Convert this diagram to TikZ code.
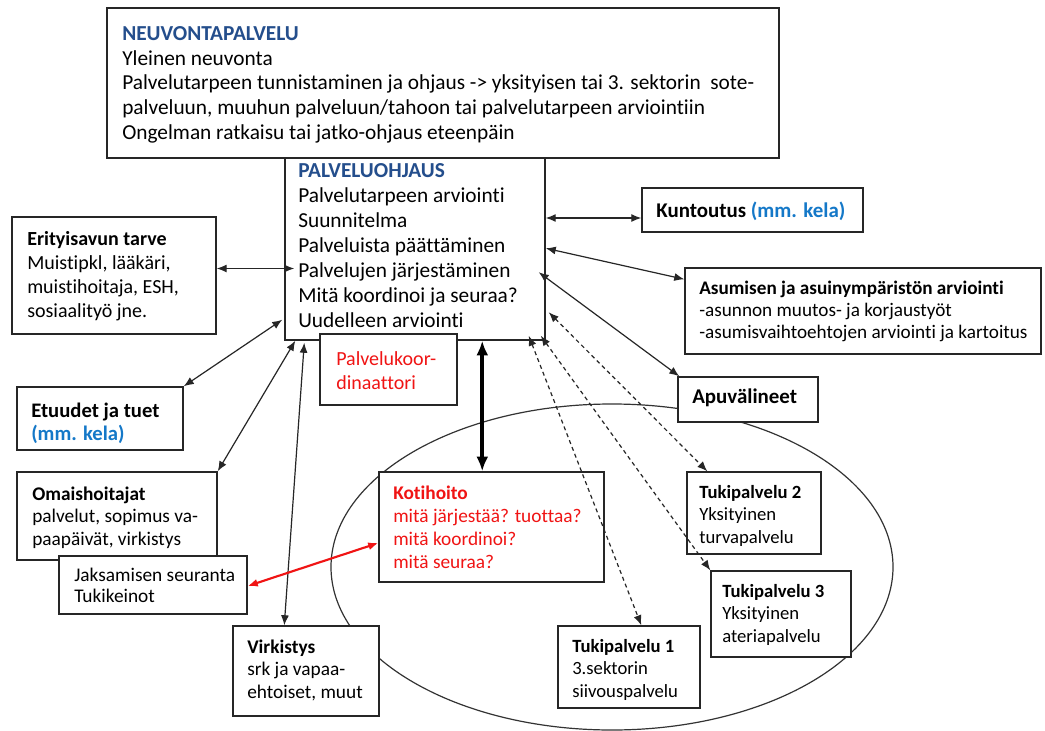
\documentclass[tikz,border=0pt]{standalone}
\usepackage{fontspec}
\setmainfont{Carlito}[Ligatures=NoCommon]
\usetikzlibrary{arrows.meta,calc,fit}
\definecolor{ttlblue}{RGB}{36,78,140}
\definecolor{kelablue}{RGB}{20,120,200}
\definecolor{kred}{RGB}{240,20,20}
\tikzset{
  box/.style={draw=black!85, line width=1.1pt, fill=white, inner sep=0pt},
  txt/.style={inner sep=0pt, anchor=north west, align=left},
  fz/.style 2 args={font=\fontsize{#1}{#2}\selectfont},
  arr/.style={{Latex[length=7.5pt,width=6pt]}-{Latex[length=7.5pt,width=6pt]}, line width=0.9pt, draw=black!85},
  darr/.style={arr, dash pattern=on 3pt off 2.5pt},
  thickarr/.style={{Latex[length=11pt,width=9pt]}-{Latex[length=11pt,width=9pt]}, line width=3pt},
  redarr/.style={{Latex[length=7.5pt,width=6pt]}-{Latex[length=7.5pt,width=6pt]}, line width=1.6pt, draw=kred},
}
\begin{document}
\begin{tikzpicture}[x=0.75pt,y=-0.75pt]
\useasboundingbox[fill=white] (0,0) rectangle (1045,731);
% ellipse
\draw[line width=0.9pt, black!80] (612,567) ellipse [x radius=281, y radius=163];
% boxes
\node[box, fit={(107,8) (779,158)}] (neu) {};
\node[box, fit={(285,158) (545,340)}] (palv) {};
\node[box, fit={(320,334) (457,405)}] (koord) {};
\node[box, fit={(12,217) (216,334)}] (eri) {};
\node[box, fit={(17,387) (183,450)}] (etu) {};
\node[box, fit={(17,472) (217,560)}] (omai) {};
\node[box, fit={(59,556) (247,614)}] (jak) {};
\node[box, fit={(233,626) (379,716)}] (virk) {};
\node[box, fit={(379,472) (604,582)}] (koti) {};
\node[box, fit={(687,472) (821,554)}] (tuk2) {};
\node[box, fit={(711,571) (851,657)}] (tuk3) {};
\node[box, fit={(558,626) (700,708)}] (tuk1) {};
\node[box, fit={(678,377) (818,422)}] (apu) {};
\node[box, fit={(642,188) (863,232)}] (kun) {};
\node[box, fit={(685,268) (1041,354)}] (asu) {};
% texts
\node[txt, fz={16}{18.6}] (neuT) at (122,22.6) {\strut\textbf{\color{ttlblue}NEUVONTAPALVELU}\\Yleinen neuvonta\\Palvelutarpeen tunnistaminen ja ohjaus -> yksityisen tai 3. sektorin\ \ sote-\\palveluun, muuhun palveluun/tahoon tai palvelutarpeen arviointiin\\Ongelman ratkaisu tai jatko-ohjaus eteenpäin};
\node[txt, fz={16}{18.75}] (palvT) at (298,159.5) {\strut\textbf{\color{ttlblue}PALVELUOHJAUS}\\Palvelutarpeen arviointi\\Suunnitelma\\Palveluista päättäminen\\Palvelujen järjestäminen\\Mitä koordinoi ja seuraa?\\Uudelleen arviointi};
\node[txt, fz={15}{18}, text=kred] (koordT) at (336,348) {\strut Palvelukoor-\\dinaattori};
\node[txt, fz={15}{18}] (eriT) at (27,228) {\strut\textbf{Erityisavun tarve}\\Muistipkl, lääkäri,\\muistihoitaja, ESH,\\sosiaalityö jne.};
\node[txt, fz={15.5}{17.25}] (etuT) at (31,401) {\strut\textbf{Etuudet ja tuet}\\\textbf{\color{kelablue}(mm. kela)}};
\node[txt, fz={14.5}{16.9}] (omaiT) at (32,484) {\strut\textbf{Omaishoitajat}\\palvelut, sopimus va-\\paapäivät, virkistys};
\node[txt, fz={14.5}{15.75}] (jakT) at (74,567) {\strut Jaksamisen seuranta\\Tukikeinot};
\node[txt, fz={14.5}{16.9}] (virkT) at (247,637) {\strut\textbf{Virkistys}\\srk ja vapaa-\\ehtoiset, muut};
\node[txt, fz={14.5}{17.25}, text=kred] (kotiT) at (393,483) {\strut\textbf{Kotihoito}\\mitä järjestää? tuottaa?\\mitä koordinoi?\\mitä seuraa?};
\node[txt, fz={14}{16.9}] (tuk2T) at (699,482) {\strut\textbf{Tukipalvelu 2}\\Yksityinen\\turvapalvelu};
\node[txt, fz={14}{16.9}] (tuk3T) at (722,581) {\strut\textbf{Tukipalvelu 3}\\Yksityinen\\ateriapalvelu};
\node[txt, fz={14}{16.9}] (tuk1T) at (572,636) {\strut\textbf{Tukipalvelu 1}\\3.sektorin\\siivouspalvelu};
\node[txt, fz={15.7}{16.9}] (apuT) at (692,387) {\strut\textbf{Apuvälineet}};
\node[txt, fz={15.7}{16.9}] (kunT) at (656,201) {\strut\textbf{Kuntoutus \color{kelablue}(mm. kela)}};
\node[txt, fz={14.4}{16.5}] (asuT) at (699,279) {\strut\textbf{Asumisen ja asuinympäristön arviointi}\\-asunnon muutos- ja korjaustyöt\\-asumisvaihtoehtojen arviointi ja kartoitus};
% connectors
\draw[arr] ($(eri.east)+(0,-7)$) -- ($(eri.east -| palv.west)+(10,-7)$);
\draw[arr] (etu.north east) -- ($(palv.south west)+(-2,-21)$);
\draw[arr] (omai.north east) -- ($(palv.south west)+(11,0)$);
\draw[arr] ($(virk.north west)+(52,0)$) -- ($(palv.south west)+(20,2)$);
\draw[thickarr] ($(palv.south west)+(198,0)$) -- ($(koti.north west)+(104,0)$);
\draw[redarr] ($(jak.east)+(0,1)$) -- ($(koti.west)+(0,16)$);
\draw[arr] ($(kun.west)+(0,8)$) -- ($(kun.west -| palv.east)+(0,8)$);
\draw[arr] ($(asu.north west)+(0,12)$) -- ($(palv.north east)+(0,91)$);
\draw[arr] ($(apu.north west)+(2,0)$) -- ($(palv.north east)+(-7,115)$);
\draw[darr] ($(palv.north east)+(3,155)$) -- ($(tuk2.north west)+(21,0)$);
\draw[darr] ($(palv.south east)+(-5,-5)$) -- (tuk3.north west);
\draw[darr] ($(palv.south east)+(-17,-5)$) -- ($(tuk1.north west)+(84,0)$);
\end{tikzpicture}
\end{document}
